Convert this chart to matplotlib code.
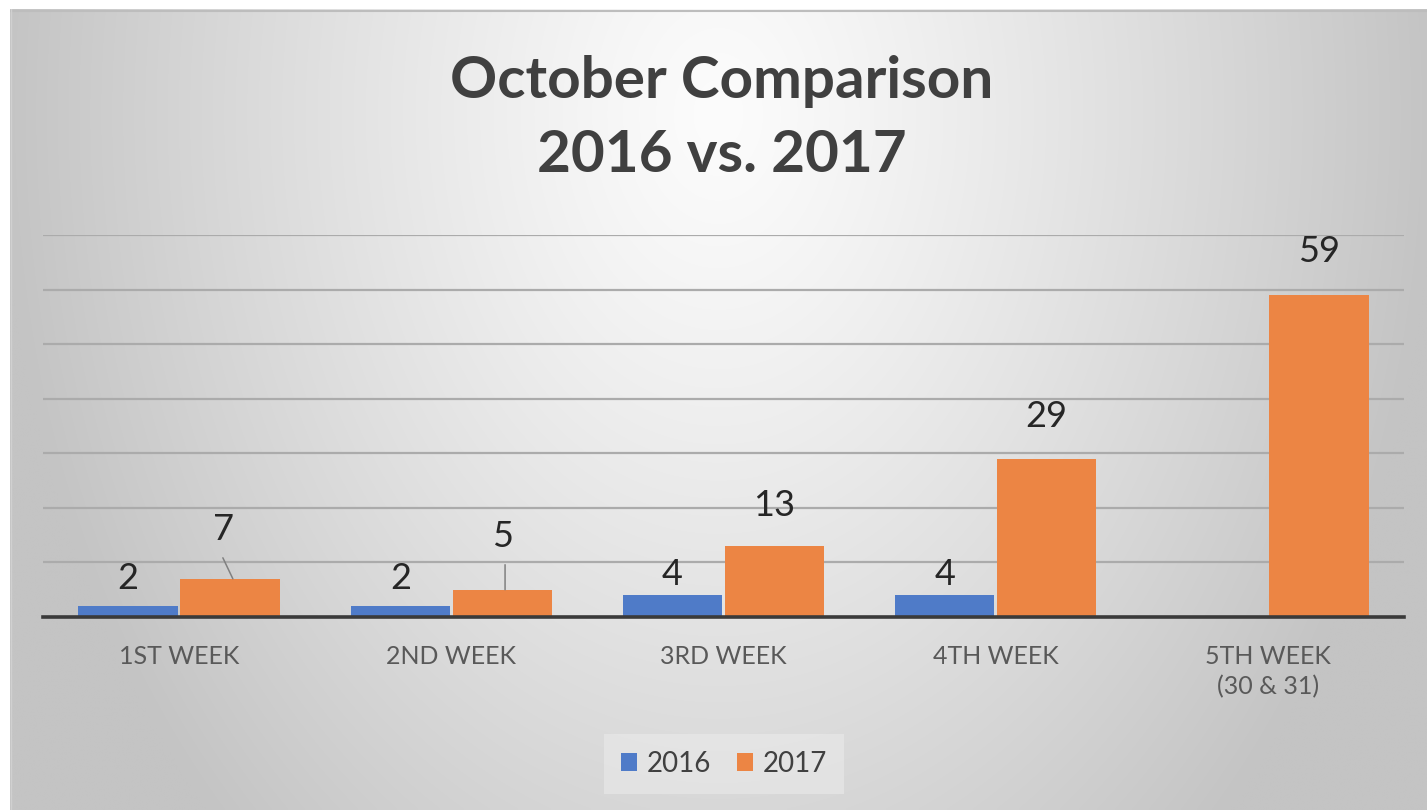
import numpy as np
import matplotlib
matplotlib.use("Agg")
import matplotlib.pyplot as plt
from matplotlib.patches import Patch

# Chart data
weeks = ["1ST WEEK", "2ND WEEK", "3RD WEEK", "4TH WEEK", "5TH WEEK\n(30 & 31)"]
values_2016 = [2, 2, 4, 4, None]
values_2017 = [7, 5, 13, 29, 59]
series_names = ["2016", "2017"]
title_lines = ["October Comparison", "2016 vs. 2017"]

blue = "#4F7BC8"
orange = "#EC8544"
text_dark = "#404040"
text_gray = "#595959"

plt.rcParams["font.family"] = ["Lato", "DejaVu Sans"]

W, H = 1427, 810
fig = plt.figure(figsize=(W / 100, H / 100), dpi=100, facecolor="white")

# Gradient background (Excel style radial fill)
bg = fig.add_axes([10 / W, 0, 1 - 10 / W, 1 - 9 / H])
bg.set_axis_off()
gx, gy = np.meshgrid(np.linspace(0, 1, 400), np.linspace(0, 1, 240))
d = np.sqrt(((gx - 0.5) / 0.55) ** 2 + ((gy - 0.13) / 1.35) ** 2)
shade = np.clip(252 - 62 * d ** 1.2, 196, 252) / 255.0
bg.imshow(np.dstack([shade, shade, shade]), extent=[0, 1, 1, 0], aspect="auto",
          interpolation="bilinear")
bg.set_xlim(0, 1)
bg.set_ylim(1, 0)
bg.plot([0, 1], [0.002, 0.002], color="#bdbdbd", lw=1.5)
bg.plot([0.001, 0.001], [0, 1], color="#d0d0d0", lw=1.0)

# Title
fig.text(722 / W, 1 - 81 / H, title_lines[0], ha="center", va="center",
         fontsize=42, fontweight="bold", color=text_dark)
fig.text(722 / W, 1 - 156 / H, title_lines[1], ha="center", va="center",
         fontsize=42, fontweight="bold", color=text_dark)

# Plot area
ax = fig.add_axes([43 / W, 1 - 617 / H, (1404 - 43) / W, (617 - 235) / H])
ax.patch.set_alpha(0)
x = np.arange(len(weeks))
bw = 0.365
off = 0.1875
v16 = np.array([np.nan if v is None else v for v in values_2016], dtype=float)
v17 = np.array(values_2017, dtype=float)
ax.bar(x - off, v16, bw, color=blue, zorder=3)
ax.bar(x + off, v17, bw, color=orange, zorder=3)

ax.set_xlim(-0.5, len(weeks) - 0.5)
ax.set_ylim(0, 70)
ax.set_yticks(np.arange(0, 71, 10))
ax.yaxis.grid(True, color="#ababab", lw=1.6, zorder=0)
ax.tick_params(axis="y", length=0, labelleft=False)
for s in ["top", "right", "left"]:
    ax.spines[s].set_visible(False)
ax.spines["bottom"].set_color("#3a3a3a")
ax.spines["bottom"].set_linewidth(2.6)
ax.spines["bottom"].set_zorder(4)
ax.set_xticks(x)
ax.set_xticklabels(weeks, fontsize=18, color=text_gray, linespacing=1.35)
ax.tick_params(axis="x", length=0, pad=20)

# Data labels (offsets in pixels above bar tops)
lab16_dy = [28, 28, 21, 21, 0]
lab17_dx = [-7, 0, 0, 0, 0]
lab17_dy = [49, 53, 41, 42, 44]
for i, v in enumerate(v16):
    if np.isnan(v):
        continue
    ax.annotate("%d" % v, xy=(x[i] - off, v), xytext=(0, lab16_dy[i]),
                textcoords="offset pixels", ha="center", va="center",
                fontsize=26, color="#262626")
for i, v in enumerate(v17):
    ax.annotate("%d" % v, xy=(x[i] + off, v), xytext=(lab17_dx[i], lab17_dy[i]),
                textcoords="offset pixels", ha="center", va="center",
                fontsize=26, color="#262626")

# Leader lines for the moved labels
ax.annotate("", xy=(x[0] + off + 0.01, v17[0]), xytext=(-10, 21),
            textcoords="offset pixels",
            arrowprops=dict(arrowstyle="-", color="#808080", lw=1.1,
                            shrinkA=0, shrinkB=0))
ax.annotate("", xy=(x[1] + off + 0.01, v17[1]), xytext=(0, 25),
            textcoords="offset pixels",
            arrowprops=dict(arrowstyle="-", color="#808080", lw=1.1,
                            shrinkA=0, shrinkB=0))

# Legend
handles = [Patch(facecolor=blue), Patch(facecolor=orange)]
leg = fig.legend(handles, series_names, loc="center", bbox_to_anchor=(724 / W, 1 - 764 / H),
                 ncol=2, frameon=True, fontsize=20, handlelength=0.6, handleheight=0.6,
                 handletextpad=0.35, columnspacing=0.9, borderpad=0.6)
for t in leg.get_texts():
    t.set_color(text_dark)
frame = leg.get_frame()
frame.set_facecolor("#ececec")
frame.set_alpha(0.55)
frame.set_edgecolor("none")
frame.set_boxstyle("square", pad=0)

fig.savefig("out.png", dpi=100)
